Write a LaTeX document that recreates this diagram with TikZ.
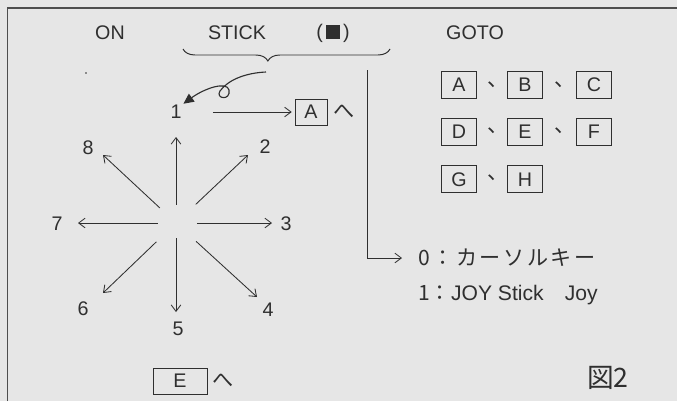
\documentclass[tikz,border=0pt]{standalone}
\usepackage{fontspec}
\setmainfont{Liberation Sans}
\newfontfamily\jp{Noto Sans CJK JP}
\newfontfamily\jpw[LetterSpace=12]{Noto Sans CJK JP}
\usetikzlibrary{arrows.meta,positioning,decorations.pathreplacing}
\definecolor{ink}{HTML}{2F2F2F}
\definecolor{paper}{HTML}{E6E6E6}
\tikzset{
  lbl/.style={inner sep=0pt, text=ink, font=\fontsize{14}{16}\selectfont},
  jlbl/.style={inner sep=0pt, text=ink, font=\jp\fontsize{15}{17}\selectfont},
  kbox/.style={draw=ink, line width=0.7pt, minimum width=0.875cm, minimum height=0.675cm, inner sep=0pt, text=ink, font=\fontsize{14}{16}\selectfont},
  arr/.style={-{Straight Barb[length=1.6mm,width=2.4mm]}, draw=ink, line width=0.6pt},
  curl/.style={-{Triangle[length=2.6mm,width=2.4mm]}, draw=ink, line width=0.8pt},
  brc/.style={decorate, decoration={brace, mirror, amplitude=0.3cm, aspect=0.41}, draw=ink, line width=0.7pt},
  frame/.style={draw=ink!85, line width=1.1pt},
}

\begin{document}
\begin{tikzpicture}[x=0.025cm, y=-0.025cm, node distance=0.48cm]

\fill[paper] (0,0) rectangle (677,401);
\useasboundingbox (0,0) rectangle (677,401);
\draw[frame] (7.5,401) |- (677,8);

% heading
\node[lbl] (on) at (110,33) {ON};
\node[lbl] (stick) at (237,33) {STICK};
\node[lbl] (sqr) at (333,33) {(\,\rule[-0.03cm]{0.34cm}{0.36cm}\,)};
\node[lbl] (goto) at (475,33) {GOTO};
\fill[ink] (86,73) circle (0.7pt);

\coordinate (bl) at (183,49);
\coordinate (br) at (390,49);
\draw[brc] (bl) -- (br);

% stick directions
\node[lbl] (one) at (176,112) {1};
\coordinate (tail) at (266,72);
\draw[curl, shorten >=0.05cm] (tail) .. controls (245,73) and (228,80) .. (220,91)
  .. controls (215,99) and (231,101) .. (229,90)
  .. controls (227,81) and (205,88) .. (one.north east);

\node[kbox, minimum width=0.8cm, minimum height=0.65cm] (ka) at (311,112) {A};
\node[jlbl, right=0.14cm of ka] (kah) {へ};
\draw[arr, shorten <=0.78cm, shorten >=0.07cm] (one) -- (ka);

\coordinate (ctr) at (176,223);
\coordinate (t1) at (176,137);
\coordinate (t2) at (248,155);
\coordinate (t3) at (272,223);
\coordinate (t4) at (257,297);
\coordinate (t5) at (176,312);
\coordinate (t6) at (103,293);
\coordinate (t7) at (78,223);
\coordinate (t8) at (103,155);

\node[lbl] (two) at (265,147) {2};
\node[lbl] (three) at (286,224) {3};
\node[lbl] (four) at (268,310) {4};
\node[lbl] (five) at (178,329) {5};
\node[lbl] (six) at (83,309) {6};
\node[lbl] (seven) at (57,224) {7};
\node[lbl] (eight) at (88,148) {8};

\draw[arr, shorten <=0.45cm] (ctr) -- (t1);
\draw[arr, shorten <=0.68cm] (ctr) -- (t2);
\draw[arr, shorten <=0.52cm] (ctr) -- (t3);
\draw[arr, shorten <=0.68cm] (ctr) -- (t4);
\draw[arr, shorten <=0.38cm] (ctr) -- (t5);
\draw[arr, shorten <=0.68cm] (ctr) -- (t6);
\draw[arr, shorten <=0.45cm] (ctr) -- (t7);
\draw[arr, shorten <=0.55cm] (ctr) -- (t8);

\node[kbox, minimum width=1.35cm, minimum height=0.65cm] (ke) at (180,381) {E};
\node[jlbl, right=0.11cm of ke] (keh) {へ};

% goto targets
\node[kbox] (ga) at (459,85) {A};
\node[kbox] (gb) at (525,85) {B};
\node[kbox] (gc) at (594,85) {C};
\node[kbox, below=of ga] (gd) {D};
\node[kbox, below=of gb] (ge) {E};
\node[kbox, below=of gc] (gf) {F};
\node[kbox, below=of gd] (gg) {G};
\node[kbox, below=of ge] (gh) {H};

\node[jlbl] (cab) at (498,85) {、};
\node[jlbl] (cbc) at (565,85) {、};
\node[jlbl] (cde) at (498,131) {、};
\node[jlbl] (cef) at (565,131) {、};
\node[jlbl] (cgh) at (498,178) {、};

% input device
\coordinate (vtop) at (367,70);
\node[jlbl, anchor=west, font=\jpw\fontsize{15}{17}\selectfont] (opt0) at (418,258) {0：カーソルキー};
\node[lbl, anchor=west, font=\fontsize{15}{17}\selectfont] (opt1) at (418,295) {{\jp 1：}JOY Stick\quad Joy};
\draw[arr] (vtop) |- ([xshift=-0.4cm]opt0.west);

\node[jlbl, font=\jp\fontsize{19}{21}\selectfont] (fig) at (608,378) {図2};

\end{tikzpicture}
\end{document}
